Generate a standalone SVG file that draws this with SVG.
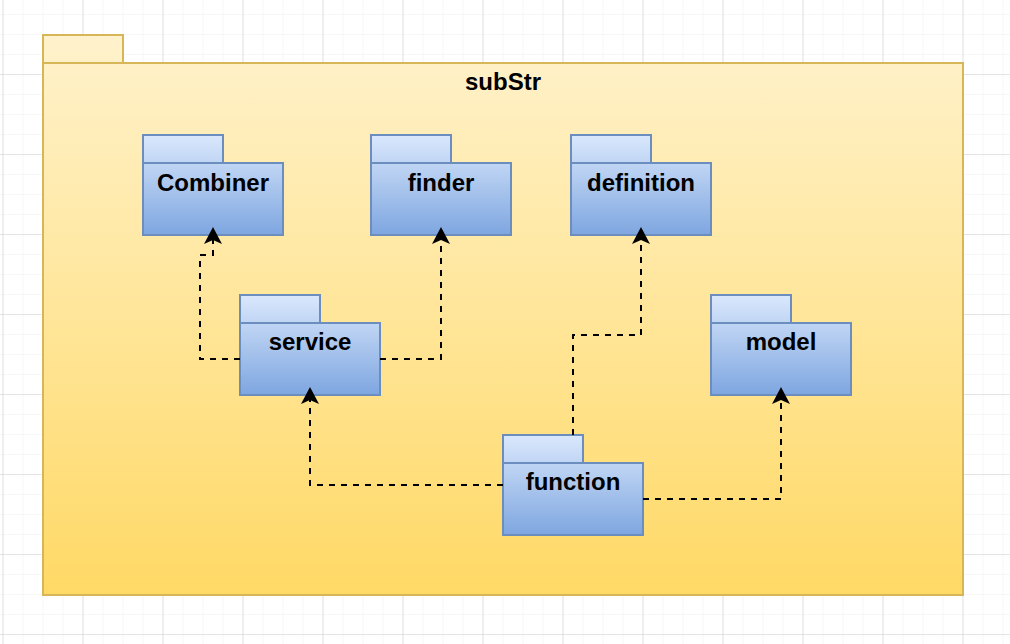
<svg xmlns="http://www.w3.org/2000/svg" width="1010" height="644" viewBox="0 0 1010 644">
<defs>
<pattern id="minor" x="2.5" y="14" width="20" height="20" patternUnits="userSpaceOnUse">
<path d="M0,0 H20 M0,0 V20" stroke="#f0f0f0" stroke-width="1.2" fill="none"/>
</pattern>
<pattern id="major" x="2.5" y="-6" width="80" height="80" patternUnits="userSpaceOnUse">
<path d="M0,0 H80 M0,0 V80" stroke="#d2d2d2" stroke-width="1.2" fill="none"/>
</pattern>
<linearGradient id="gy" x1="0" y1="0" x2="0" y2="1">
<stop offset="0" stop-color="#fff2cc"/>
<stop offset="1" stop-color="#ffd966"/>
</linearGradient>
<linearGradient id="gb" x1="0" y1="0" x2="0" y2="1">
<stop offset="0" stop-color="#dae8fc"/>
<stop offset="1" stop-color="#7ea6e0"/>
</linearGradient>
<marker id="arr" markerUnits="userSpaceOnUse" markerWidth="17" markerHeight="18" viewBox="0 0 17 18" refX="4" refY="9" orient="auto">
<path d="M17,9 L0,0 L4,9 L0,18 Z" fill="#000"/>
</marker>
</defs>
<style>
.pkg{fill:url(#gb);stroke:#6c8ebf;stroke-width:2}
.sep{stroke:#6c8ebf;stroke-width:2;fill:none}
.lbl{font-family:"Liberation Sans",Arial,Helvetica,sans-serif;font-weight:bold;font-size:24px;fill:#000;text-anchor:middle}
.dep{fill:none;stroke:#000;stroke-width:2;stroke-dasharray:6 6;marker-end:url(#arr)}
</style>
<rect width="1010" height="644" fill="#ffffff"/>
<rect width="1010" height="644" fill="url(#minor)"/>
<rect width="1010" height="644" fill="url(#major)"/>

<g id="subStr">
<path d="M43,35 H123 V63 H963 V595 H43 Z" fill="url(#gy)" stroke="#d6b656" stroke-width="2"/>
<path d="M43,63 H123" stroke="#d6b656" stroke-width="2" fill="none"/>
<text class="lbl" x="503" y="89.5">subStr</text>
</g>

<g id="Combiner">
<path class="pkg" d="M143,135 H223 V163 H283 V235 H143 Z"/>
<path class="sep" d="M143,163 H223"/>
<text class="lbl" x="213" y="190.5">Combiner</text>
</g>
<g id="finder">
<path class="pkg" d="M371,135 H451 V163 H511 V235 H371 Z"/>
<path class="sep" d="M371,163 H451"/>
<text class="lbl" x="441" y="190.5">finder</text>
</g>
<g id="definition">
<path class="pkg" d="M571,135 H651 V163 H711 V235 H571 Z"/>
<path class="sep" d="M571,163 H651"/>
<text class="lbl" x="641" y="190.5">definition</text>
</g>
<g id="service">
<path class="pkg" d="M240,295 H320 V323 H380 V395 H240 Z"/>
<path class="sep" d="M240,323 H320"/>
<text class="lbl" x="310" y="350">service</text>
</g>
<g id="model">
<path class="pkg" d="M711,295 H791 V323 H851 V395 H711 Z"/>
<path class="sep" d="M711,323 H791"/>
<text class="lbl" x="781" y="350">model</text>
</g>
<g id="function">
<path class="pkg" d="M503,435 H583 V463 H643 V535 H503 Z"/>
<path class="sep" d="M503,463 H583"/>
<text class="lbl" x="573" y="490">function</text>
</g>

<g id="connectors">
<path class="dep" d="M240,359 H200 V255 H213 V240"/>
<path class="dep" d="M380,359 H441 V240"/>
<path class="dep" d="M503,485 H310 V400"/>
<path class="dep" d="M573,435 V335 H641 V240"/>
<path class="dep" d="M643,499 H781 V400"/>
</g>
</svg>
